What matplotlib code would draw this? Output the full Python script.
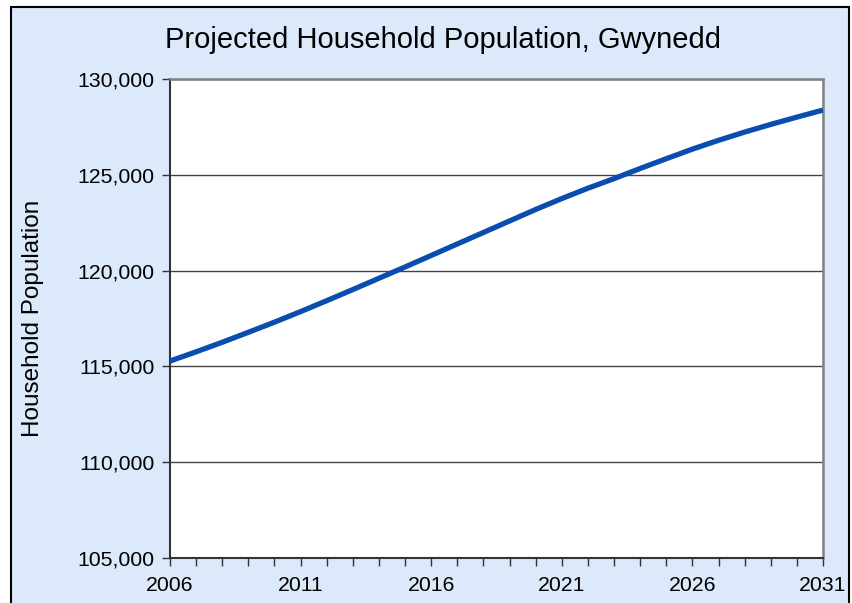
import matplotlib
matplotlib.use("Agg")
import matplotlib.pyplot as plt
from matplotlib.patches import Rectangle
from matplotlib.ticker import FuncFormatter, MultipleLocator

plt.rcParams['font.family'] = ['Liberation Sans', 'DejaVu Sans']

# projected household population
years = list(range(2006, 2032))
household_pop = [115280, 115760, 116260, 116780, 117310, 117860, 118430, 119010,
                 119600, 120190, 120790, 121390, 121990, 122590, 123190, 123760,
                 124300, 124800, 125330, 125840, 126340, 126800, 127230, 127630,
                 128010, 128380]
year_labels = [2006, 2011, 2016, 2021, 2026, 2031]
y_ticks = [105000, 110000, 115000, 120000, 125000, 130000]

W, H = 852, 603
fig = plt.figure(figsize=(W / 100, H / 100), dpi=100)
fig.patch.set_facecolor('white')

# light blue chart area with black border (bottom edge cut off)
bg = Rectangle((11 / W, -0.05), (849 - 11) / W, 1.05 - 7 / H,
               transform=fig.transFigure, facecolor='#DBE9FB',
               edgecolor='black', linewidth=1.5, zorder=-5)
fig.patches.append(bg)

ax = fig.add_axes([170 / W, 1 - 558 / H, (823 - 170) / W, (558 - 79) / H])
ax.set_zorder(2)
ax.set_facecolor('white')

ax.plot(years, household_pop, color='#0A4DB0', linewidth=3.8, solid_capstyle='butt', zorder=3)

ax.set_xlim(2006, 2031)
ax.set_ylim(105000, 130000)
ax.set_yticks(y_ticks)
ax.yaxis.set_major_formatter(FuncFormatter(lambda v, p: f'{int(v):,}'))
ax.set_xticks(year_labels)
ax.xaxis.set_minor_locator(MultipleLocator(1))

ax.grid(axis='y', color='#444444', linewidth=1.0)
ax.set_axisbelow(True)

ax.tick_params(axis='y', direction='out', length=6, width=1, color='#333333',
               labelsize=15.3, pad=5)
ax.tick_params(axis='x', which='both', direction='out', length=6, width=1,
               color='#333333', labelsize=15.3, pad=7)

for side in ('left', 'bottom'):
    ax.spines[side].set_color('#333333')
    ax.spines[side].set_linewidth(1.5)
for side in ('top', 'right'):
    ax.spines[side].set_color('#808080')
    ax.spines[side].set_linewidth(1.8)

fig.text(443 / W, 1 - 40 / H, 'Projected Household Population, Gwynedd',
         ha='center', va='center', fontsize=21, zorder=3)
fig.text(33 / W, 1 - 318 / H, 'Household Population', rotation=90,
         ha='center', va='center', fontsize=17.5, zorder=3)

fig.savefig('out.png', dpi=100, facecolor=fig.get_facecolor())
